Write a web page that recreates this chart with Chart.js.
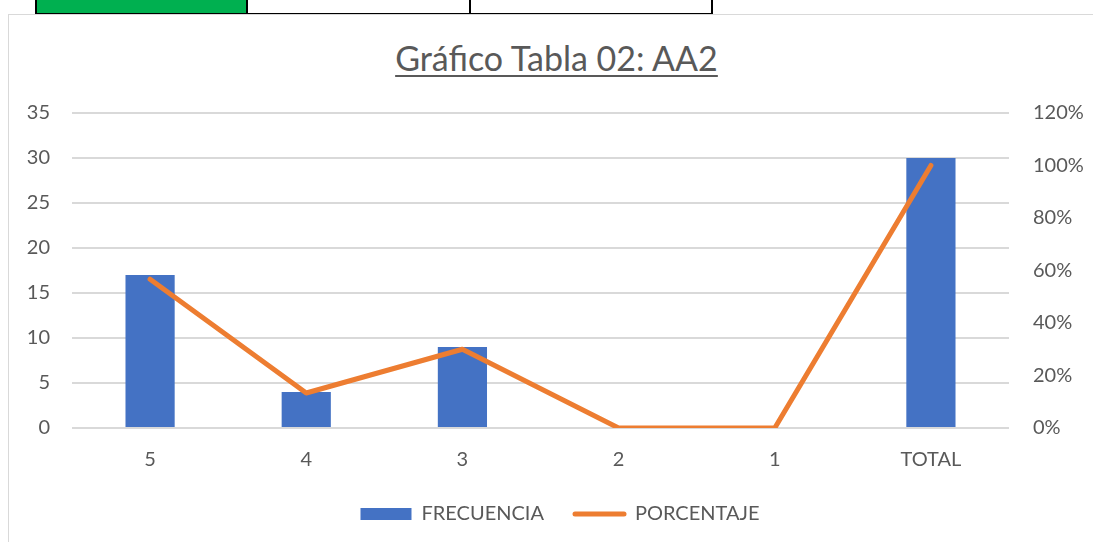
<!DOCTYPE html>
<html>
<head>
<meta charset="utf-8">
<script src="https://cdn.jsdelivr.net/npm/chart.js@4.4.1/dist/chart.umd.min.js"></script>
<style>
  body { margin: 0; width: 1093px; height: 542px; overflow: hidden; background: #fff; font-family: Lato, "Liberation Sans", sans-serif; position: relative; }
  .cell { position: absolute; top: -3px; height: 14px; border: 2px solid #000; box-sizing: content-box; }
  #box { position: absolute; left: 8px; top: 14px; width: 1090px; height: 540px; border-left: 1px solid #d9d9d9; border-top: 1px solid #d9d9d9; }
  #title { position: absolute; left: 0; width: 1113px; top: 37px; text-align: center; font-size: 34px; color: #595959; text-decoration: underline; text-decoration-thickness: 2px; text-underline-offset: 4px; }
  #wrap { position: absolute; left: 9px; top: 15px; width: 1084px; height: 527px; }
</style>
</head>
<body>
<div class="cell" style="left:35px;width:209px;background:#00b050;"></div>
<div class="cell" style="left:246px;width:223px;border-left:none;"></div>
<div class="cell" style="left:471px;width:240px;border-left:none;"></div>
<div id="box"></div>
<div id="title">Gráfico Tabla 02: AA2</div>
<div id="wrap"><canvas id="chart"></canvas></div>
<script>
const categories = ["5", "4", "3", "2", "1", "TOTAL"];
const frecuencia = [17, 4, 9, 0, 0, 30];
const porcentaje = [0.5667, 0.1333, 0.30, 0, 0, 1.00];

const grey = "#595959";
const orange = "#ed7d31";
const tickFont = { family: "Lato, 'Liberation Sans', sans-serif", size: 20 };

// legend swatch for the line: a short thick orange stroke with round caps
const lineSwatch = document.createElement("canvas");
lineSwatch.width = 55;
lineSwatch.height = 6;
const lc = lineSwatch.getContext("2d");
lc.strokeStyle = orange;
lc.lineWidth = 5;
lc.lineCap = "round";
lc.beginPath();
lc.moveTo(3, 3);
lc.lineTo(52, 3);
lc.stroke();

new Chart(document.getElementById("chart"), {
  type: "bar",
  data: {
    labels: categories,
    datasets: [{
      label: "FRECUENCIA",
      data: frecuencia,
      backgroundColor: "#4472c4",
      categoryPercentage: 1,
      barPercentage: 0.315,
      yAxisID: "y",
      order: 1,
      pointStyle: "rect"
    }, {
      type: "line",
      label: "PORCENTAJE",
      data: porcentaje,
      borderColor: orange,
      backgroundColor: orange,
      borderWidth: 5,
      borderCapStyle: "round",
      borderJoinStyle: "round",
      pointRadius: 0,
      pointStyle: lineSwatch,
      tension: 0,
      yAxisID: "y1",
      order: 0
    }]
  },
  options: {
    responsive: true,
    maintainAspectRatio: false,
    animation: false,
    layout: { padding: { top: 98, left: 18, right: 0, bottom: 8 } },
    plugins: {
      tooltip: { enabled: false },
      legend: {
        position: "bottom",
        labels: {
          usePointStyle: true,
          pointStyleWidth: 51,
          boxHeight: 12,
          padding: 30,
          color: grey,
          font: tickFont,
          sort: (a, b) => a.datasetIndex - b.datasetIndex
        }
      }
    },
    scales: {
      x: {
        grid: { display: false },
        border: { display: false },
        ticks: { color: grey, font: tickFont, padding: 12 },
        afterFit: s => { s.height = 46; }
      },
      y: {
        position: "left",
        min: 0,
        max: 35,
        ticks: { stepSize: 5, color: grey, font: tickFont, padding: 22 },
        grid: { color: "#d9d9d9", lineWidth: 2, drawTicks: false },
        border: { display: false },
        afterFit: s => { s.width = 45; }
      },
      y1: {
        position: "right",
        min: 0,
        max: 1.2,
        ticks: {
          stepSize: 0.2,
          color: grey,
          font: tickFont,
          padding: 16,
          callback: v => Math.round(v * 100) + "%"
        },
        grid: { display: false },
        border: { display: false },
        afterFit: s => { s.width = 84; }
      }
    }
  }
});
</script>
</body>
</html>
